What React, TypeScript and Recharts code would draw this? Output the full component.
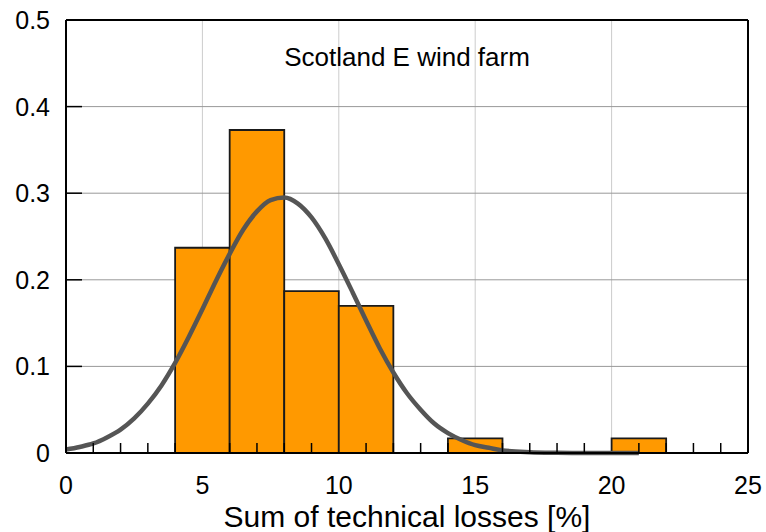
import React from "react";
import {
  ComposedChart,
  Line,
  XAxis,
  YAxis,
  CartesianGrid,
  ReferenceArea,
  ReferenceLine,
} from "recharts";

// histogram bins (fraction of samples)
const binStart = [4, 6, 8, 10, 14, 20];
const binEnd = [6, 8, 10, 12, 16, 22];
const binHeight = [0.237, 0.373, 0.187, 0.17, 0.017, 0.017];

// fitted normal curve
const curveX = [
  0, 0.5, 1, 1.5, 2, 2.5, 3, 3.5, 4, 4.5, 5, 5.5, 6, 6.5, 7, 7.5, 8, 8.5, 9,
  9.5, 10, 10.5, 11, 11.5, 12, 12.5, 13, 13.5, 14, 14.5, 15, 15.5, 16, 17, 18,
  19, 20, 21,
];
const curveY = [
  0.004, 0.007, 0.011, 0.018, 0.027, 0.04, 0.057, 0.078, 0.104, 0.134, 0.166,
  0.199, 0.23, 0.258, 0.279, 0.292, 0.295, 0.288, 0.272, 0.248, 0.218, 0.186,
  0.153, 0.121, 0.093, 0.069, 0.05, 0.034, 0.023, 0.015, 0.009, 0.006, 0.003,
  0.001, 0.0003, 0, 0, 0,
];

const xTicks = [
  0, 1, 2, 3, 4, 5, 6, 7, 8, 9, 10, 11, 12, 13, 14, 15, 16, 17, 18, 19, 20, 21,
  22, 23, 24, 25,
];
const yTicks = [0, 0.1, 0.2, 0.3, 0.4, 0.5];
const gridX = [5, 10, 15, 20];
const gridY = [0.1, 0.2, 0.3, 0.4];

const title = "Scotland E wind farm";
const xLabel = "Sum of technical losses [%]";

const data = curveX.map((x, i) => ({ x, y: curveY[i] }));

const FONT = "'Liberation Sans', Arial, sans-serif";

function XTick(props: any) {
  const { x, y, payload } = props;
  const v = payload.value;
  if (v % 5 === 0) {
    return (
      <text
        x={x}
        y={y + 41}
        textAnchor="middle"
        fontSize={25}
        fontFamily={FONT}
        fill="#000"
      >
        {v}
      </text>
    );
  }
  return <line x1={x} x2={x} y1={y} y2={y - 10} stroke="#000" strokeWidth={1.5} />;
}

function YTick(props: any) {
  const { x, y, payload } = props;
  const v = payload.value;
  const inner = v > 0 && v < 0.5;
  return (
    <g>
      {inner && (
        <line x1={x} x2={x + 16} y1={y} y2={y} stroke="#000" strokeWidth={1.5} />
      )}
      <text
        x={x - 16}
        y={y}
        dy="0.36em"
        textAnchor="end"
        fontSize={25}
        fontFamily={FONT}
        fill="#000"
      >
        {v === 0 ? "0" : v.toFixed(1)}
      </text>
    </g>
  );
}

export default function App() {
  return (
    <div
      style={{
        position: "relative",
        width: 766,
        height: 532,
        background: "#fff",
        fontFamily: FONT,
      }}
    >
      <style>{"body{margin:0}.recharts-surface{overflow:visible}"}</style>
      <ComposedChart
        width={766}
        height={532}
        data={data}
        margin={{ top: 20, right: 18, left: 6, bottom: 9 }}
      >
        <CartesianGrid
          horizontal={false}
          verticalValues={gridX}
          stroke="#cccccc"
          strokeWidth={1}
        />
        <CartesianGrid
          vertical={false}
          horizontalValues={gridY}
          stroke="#999999"
          strokeWidth={1}
        />
        <XAxis
          dataKey="x"
          type="number"
          domain={[0, 25]}
          ticks={xTicks}
          interval={0}
          tickSize={0}
          tickMargin={0}
          tickLine={false}
          tick={<XTick />}
          axisLine={{ stroke: "#000", strokeWidth: 2 }}
          height={70}
          label={{
            value: xLabel,
            position: "insideBottom",
            offset: -4,
            fontSize: 30,
            fill: "#000",
            fontFamily: FONT,
          }}
        />
        <YAxis
          type="number"
          domain={[0, 0.5]}
          ticks={yTicks}
          interval={0}
          tickSize={0}
          tickMargin={0}
          tickLine={false}
          tick={<YTick />}
          axisLine={{ stroke: "#000", strokeWidth: 2 }}
          width={60}
        />
        {binStart.map((s, i) => (
          <ReferenceArea
            key={i}
            x1={s}
            x2={binEnd[i]}
            y1={0}
            y2={binHeight[i]}
            fill="#FF9900"
            fillOpacity={1}
            stroke="#1a1a1a"
            strokeWidth={1.8}
            ifOverflow="visible"
          />
        ))}
        <ReferenceLine y={0.5} stroke="#000" strokeWidth={2} />
        <ReferenceLine x={25} stroke="#000" strokeWidth={2} />
        <Line
          type="monotone"
          dataKey="y"
          stroke="#555555"
          strokeWidth={4.5}
          dot={false}
          activeDot={false}
          isAnimationActive={false}
        />
      </ComposedChart>
      <div
        style={{
          position: "absolute",
          left: 66,
          width: 682,
          top: 42,
          textAlign: "center",
          fontSize: 26,
          lineHeight: "30px",
          color: "#000",
        }}
      >
        {title}
      </div>
    </div>
  );
}
